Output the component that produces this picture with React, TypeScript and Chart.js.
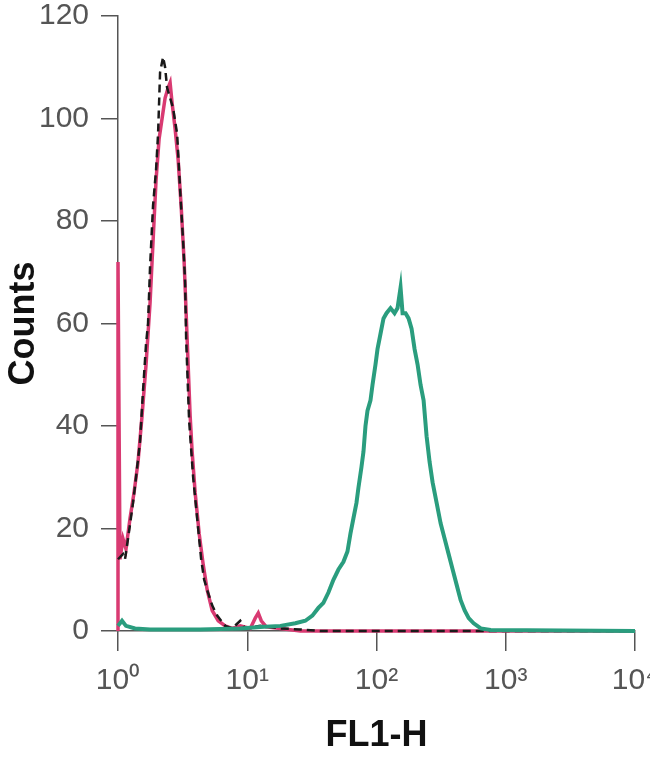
import { useEffect, useRef } from "react";
import { Chart, registerables } from "chart.js";

Chart.register(...registerables);

// FL1-H tick positions (log scale) and their labels
const xTickValues = [1, 10, 100, 1000, 10000];
const xTickLabels = ["10⁰", "10¹", "10²", "10³", "10⁴"];

// isotype control (black dashed)
const isoX = [1.0, 1.093, 1.133, 1.195, 1.307, 1.379, 1.481, 1.563, 1.648, 1.708, 1.77, 1.867, 1.97, 2.042, 2.116, 2.233, 2.314, 2.398, 2.53, 2.669, 2.868, 3.025, 3.191, 3.307, 3.367, 3.551, 3.814, 4.097, 4.4, 4.642, 4.898, 5.355, 5.855, 6.753, 7.651, 8.826, 9.65, 12.61, 18.03, 25.76, 36.8, 10000];
const isoY = [14, 15, 14, 18, 25, 30, 37, 47, 56, 60, 71, 83, 90, 97, 109, 112, 110, 106, 104, 102, 97, 86, 76, 68, 57, 41, 30, 22, 14, 10, 8, 5, 3, 1, 0.5, 2, 0.5, 1, 0.5, 0.3, 0, 0];

// unstained cells (pink)
const unstX = [1.0, 1.0, 1.036, 1.093, 1.153, 1.239, 1.331, 1.429, 1.535, 1.648, 1.77, 1.867, 1.97, 2.079, 2.193, 2.314, 2.441, 2.53, 2.622, 2.766, 2.919, 3.079, 3.249, 3.367, 3.488, 3.615, 3.746, 3.953, 4.246, 4.56, 4.898, 5.355, 5.961, 6.753, 7.651, 8.826, 10.55, 11.53, 12.17, 12.84, 14.04, 18.03, 25.76, 10000];
const unstY = [0, 72, 14, 18, 16, 22, 27, 33, 42, 52, 64, 76, 88, 96, 100, 104, 106, 107, 103, 98, 92, 83, 72, 62, 52, 42, 35, 27, 19, 13, 8, 4, 2, 1, 0.5, 1, 0.5, 2.5, 3.5, 2, 0.8, 0.5, 0, 0];

// stained cells (green)
const stainX = [1.0, 1.074, 1.153, 1.355, 1.77, 4.322, 8.826, 12.61, 18.03, 23.56, 28.16, 31.91, 35.51, 38.82, 42.46, 46.42, 50.76, 55.49, 59.61, 62.86, 66.31, 69.98, 72.53, 76.51, 79.3, 82.18, 85.17, 89.85, 93.11, 98.22, 101.8, 107.4, 113.3, 119.5, 128.4, 137.9, 145.5, 153.5, 159.1, 167.8, 177.1, 186.8, 197.1, 207.9, 219.3, 231.4, 244.1, 257.5, 271.7, 291.9, 313.4, 336.7, 361.5, 388.2, 417.1, 447.9, 481.1, 516.8, 564.9, 640.3, 765.1, 10000];
const stainY = [1, 2, 1, 0.5, 0.3, 0.3, 0.5, 0.8, 1, 1.5, 2, 3, 4.5, 5.5, 7.5, 10, 12, 13.5, 15.5, 19, 22, 25, 28, 32, 35, 40, 43, 45, 48, 52, 55, 58, 61, 62, 63, 62, 63, 67, 62, 62, 61, 59, 55, 52, 48, 45, 38, 33, 29, 25, 21, 18, 15, 12, 9, 6, 4, 2.5, 1.5, 0.5, 0.2, 0];

const toPoints = (xs: number[], ys: number[]) => xs.map((x, i) => ({ x, y: ys[i] }));

const tickFont = { family: '"Liberation Sans Narrow", "Liberation Sans", Arial, sans-serif', size: 30 };
const titleFont = { family: '"Liberation Sans", Arial, sans-serif', size: 36, weight: "bold" as const };

export default function App() {
  const canvasRef = useRef<HTMLCanvasElement | null>(null);

  useEffect(() => {
    if (!canvasRef.current) return;
    const chart = new Chart(canvasRef.current, {
      type: "line",
      data: {
        datasets: [
          {
            data: toPoints(stainX, stainY),
            borderColor: "#2a9d7e",
            borderWidth: 4,
            pointRadius: 0,
            tension: 0,
            clip: false,
          },
          {
            data: toPoints(isoX, isoY),
            borderColor: "#1a1a1a",
            borderWidth: 2.5,
            borderDash: [8, 5],
            pointRadius: 0,
            tension: 0,
            clip: false,
          },
          {
            data: toPoints(unstX, unstY),
            borderColor: "#d93a72",
            borderWidth: 3.5,
            pointRadius: 0,
            tension: 0,
            clip: false,
          },
        ],
      },
      options: {
        animation: false,
        responsive: true,
        maintainAspectRatio: false,
        layout: { padding: { top: 16, right: 15, left: 0, bottom: 0 } },
        plugins: { legend: { display: false }, tooltip: { enabled: false } },
        scales: {
          x: {
            type: "logarithmic",
            min: 1,
            max: 10000,
            afterBuildTicks: (s: any) => {
              s.ticks = xTickValues.map((v) => ({ value: v }));
            },
            afterFit: (s: any) => {
              s.height = 129;
              s.paddingLeft = 0;
              s.paddingRight = 0;
            },
            ticks: {
              autoSkip: false,
              maxRotation: 0,
              padding: 12,
              color: "#555",
              font: tickFont,
              callback: (v: any) => {
                const i = xTickValues.indexOf(Number(v));
                return i >= 0 ? xTickLabels[i] : "";
              },
            },
            grid: { drawOnChartArea: false, drawTicks: true, tickLength: 20, color: "#555", lineWidth: 1.5 },
            border: { display: true, color: "#555", width: 1.5 },
            title: { display: true, text: "FL1-H", color: "#111", font: titleFont, padding: { top: 0, bottom: 2 } },
          },
          y: {
            min: 0,
            max: 120,
            afterFit: (s: any) => {
              s.width = 118;
              s.paddingTop = 0;
              s.paddingBottom = 0;
            },
            ticks: { stepSize: 20, padding: 12, color: "#555", font: tickFont },
            grid: { drawOnChartArea: false, drawTicks: true, tickLength: 17, color: "#555", lineWidth: 1.5 },
            border: { display: true, color: "#555", width: 1.5 },
            title: { display: true, text: "Counts", color: "#111", font: titleFont, padding: { top: 2, bottom: 0 } },
          },
        },
      },
    });
    return () => chart.destroy();
  }, []);

  return (
    <div style={{ position: "absolute", left: 0, top: 0, width: 650, height: 760, background: "#fff" }}>
      <canvas ref={canvasRef} />
    </div>
  );
}
